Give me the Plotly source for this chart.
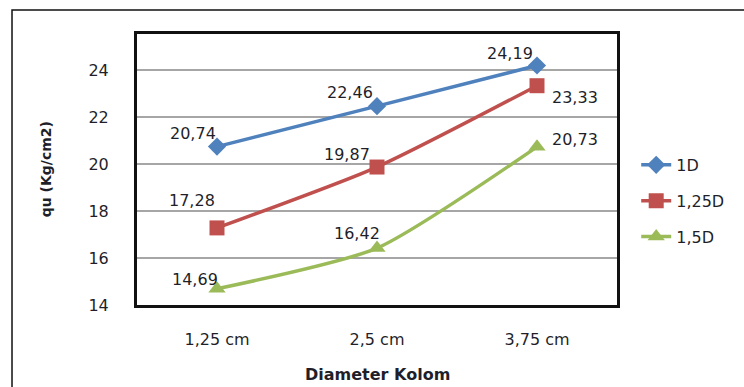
import plotly.graph_objects as go

# Column diameter categories and bearing capacity qu (kg/cm2) per series
categories = ["1,25 cm", "2,5 cm", "3,75 cm"]
series_names = ["1D", "1,25D", "1,5D"]
qu_1d = [20.74, 22.46, 24.19]
qu_125d = [17.28, 19.87, 23.33]
qu_15d = [14.69, 16.42, 20.73]
y_ticks = [14, 16, 18, 20, 22, 24]

colors = ["#4F81BD", "#C0504D", "#9BBB59"]
symbols = ["diamond", "square", "triangle-up"]
marker_sizes = [14, 15, 15]
all_values = [qu_1d, qu_125d, qu_15d]

# label offsets (px) relative to each point, per series
label_offsets = [
    [(-24, 13), (-27, 14), (-27, 12)],
    [(-25, 27), (-30, 13), (38, -12)],
    [(-22, 9), (-20, 15), (38, 7)],
]

FONT = "DejaVu Sans"
TXT = "#1f1f2a"
FS = 16

fig = go.Figure()
for i, (name, vals) in enumerate(zip(series_names, all_values)):
    fig.add_trace(go.Scatter(
        x=categories, y=vals, name=name, mode="lines+markers",
        line=dict(color=colors[i], width=3.5, shape="spline", smoothing=0.6),
        marker=dict(symbol=symbols[i], size=marker_sizes[i], color=colors[i]),
        legendgroup=name,
    ))

annotations = []
for i, vals in enumerate(all_values):
    for j, v in enumerate(vals):
        dx, dy = label_offsets[i][j]
        annotations.append(dict(
            x=categories[j], y=v, xref="x", yref="y",
            text=f"{v:.2f}".replace(".", ","), showarrow=False,
            xshift=dx, yshift=dy, font=dict(family=FONT, size=FS, color=TXT),
        ))

# axis titles
annotations.append(dict(
    text="<b>Diameter Kolom</b>", xref="paper", yref="paper",
    x=0.5, y=-0.258, xanchor="center", yanchor="middle", showarrow=False,
    font=dict(family=FONT, size=16, color=TXT),
))
annotations.append(dict(
    text="<b>qu (Kg/cm2)</b>", xref="paper", yref="paper",
    x=-0.19, y=0.5, xanchor="center", yanchor="middle", textangle=-90,
    showarrow=False, font=dict(family=FONT, size=14, color=TXT),
))

fig.update_layout(
    width=744, height=387,
    margin=dict(l=137, r=127, t=34, b=82),
    paper_bgcolor="white", plot_bgcolor="white",
    showlegend=True,
    legend=dict(
        x=1.04, y=0.384, xanchor="left", yanchor="middle",
        font=dict(family=FONT, size=FS, color=TXT),
        traceorder="grouped", tracegroupgap=12,
        bgcolor="rgba(0,0,0,0)",
    ),
    annotations=annotations,
    shapes=[dict(
        type="rect", xref="paper", yref="paper",
        x0=-0.2604, x1=1.4, y0=-0.5, y1=1.0886,
        line=dict(color="#111111", width=1.5), layer="below",
    )],
)
fig.update_xaxes(
    type="category", range=[-0.5, 2.5],
    showline=True, mirror=True, linecolor="#111111", linewidth=3,
    showgrid=False, ticks="", ticklabelstandoff=18,
    tickfont=dict(family=FONT, size=FS, color=TXT),
)
fig.update_yaxes(
    range=[14, 25.53], tickvals=y_ticks,
    ticktext=[str(t) for t in y_ticks],
    showline=True, mirror=True, linecolor="#111111", linewidth=3,
    showgrid=True, gridcolor="#A6A6A6", gridwidth=1.5,
    zeroline=False, ticks="", ticklabelstandoff=22,
    tickfont=dict(family=FONT, size=FS, color=TXT),
)

fig.write_html("out.html")
